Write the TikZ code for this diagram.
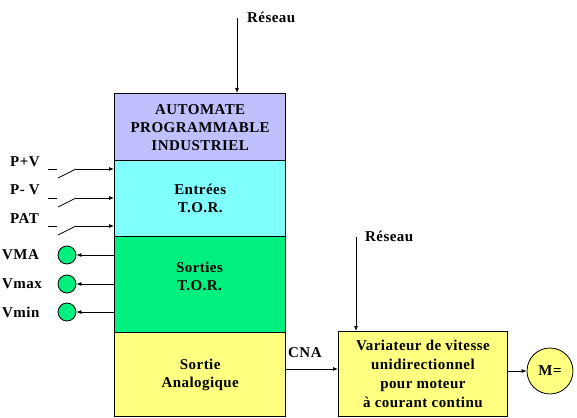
\documentclass[tikz,border=0pt]{standalone}
\usepackage{fontspec}
\setmainfont{Liberation Serif}[LetterSpace=3]
\usetikzlibrary{arrows.meta}
\definecolor{cpurple}{RGB}{192,192,255}
\definecolor{ccyan}{RGB}{128,255,255}
\definecolor{cgreen}{RGB}{0,240,128}
\definecolor{cyellow}{RGB}{255,255,128}
\begin{document}
\begin{tikzpicture}[x=1pt,y=-1pt,
  blk/.style={draw=black,line width=1.4pt,minimum width=171pt,anchor=north west,inner sep=0pt,align=center,font=\fontsize{15}{18}\selectfont\bfseries},
  lbl/.style={font=\fontsize{15}{16}\selectfont\bfseries,inner sep=0pt},
  arr/.style={-{Latex[length=5pt,width=4pt]},line width=0.8pt},
  lamp/.style={circle,draw=black,line width=0.8pt,fill=cgreen,minimum size=18pt,inner sep=0pt},
  wire/.style={line width=0.8pt}]
\useasboundingbox (0,0) rectangle (577,417);
% main block
\node[blk,fill=cpurple,minimum height=67pt] (api) at (114,93) {AUTOMATE\\PROGRAMMABLE\\INDUSTRIEL};
\node[blk,fill=ccyan,minimum height=76pt] (ent) at (114,160) {Entrées\\T.O.R.};
\node[blk,fill=cgreen,minimum height=96pt] (sor) at (114,236) {};
\node[lbl,align=center,font=\fontsize{15}{18}\selectfont\bfseries] (sortxt) at (199.5,276) {Sorties\\T.O.R.};
\node[blk,fill=cyellow,minimum height=84pt] (ana) at (114,332) {Sortie\\Analogique};
% reseau 1
\node[lbl,anchor=west] (res1) at (247,17) {Réseau};
\coordinate (r1) at (237,18);
\draw[arr] (r1) -- (api.north -| r1);
% inputs
\node[lbl,anchor=west] (pv) at (10,162) {P+V};
\node[lbl,anchor=west] (mv) at (10,190) {P-~V};
\node[lbl,anchor=west] (pat) at (10,219) {PAT};
\foreach \n/\y in {pv/169,mv/198,pat/226}{
  \coordinate (\n a) at (48,\y);
  \coordinate (\n b) at (57,\y);
  \coordinate (\n c) at (58,\y+9);
  \coordinate (\n d) at (76,\y);
  \draw[wire] (\n a) -- (\n b);
  \draw[wire] (\n c) -- (\n d);
  \draw[arr] (\n d) -- (\n d -| ent.west);
}
% outputs
\node[lamp] (vma) at (67,255) {};
\node[lamp] (vmax) at (67,284) {};
\node[lamp] (vmin) at (67,312) {};
\node[lbl,anchor=west] at (2,255) {VMA};
\node[lbl,anchor=west] at (2,284) {Vmax};
\node[lbl,anchor=west] at (2,312) {Vmin};
\foreach \n in {vma,vmax,vmin}{
  \draw[arr] (sor.west |- \n) -- (\n.east);
}
% variateur
\node[draw=black,line width=0.8pt,fill=cyellow,minimum width=169pt,minimum height=85pt,anchor=north west,align=center,inner sep=0pt,font=\fontsize{15}{19}\selectfont\bfseries] (var) at (338,331) {Variateur de vitesse\\unidirectionnel\\pour moteur\\à courant continu};
\node[lbl,anchor=west] (res2) at (365,236) {Réseau};
\coordinate (r2) at (356,237);
\draw[arr] (r2) -- (var.north -| r2);
\coordinate (cna) at (285,369);
\node[lbl,anchor=west] at (288,353) {CNA};
\draw[arr] (ana.east |- cna) -- (var.west |- cna);
\node[circle,draw=black,line width=0.8pt,fill=cyellow,minimum size=46pt,inner sep=0pt,font=\fontsize{15}{16}\selectfont\bfseries] (mot) at (550,371) {M=};
\draw[arr] (var.east |- mot) -- (mot.west);
\end{tikzpicture}
\end{document}
